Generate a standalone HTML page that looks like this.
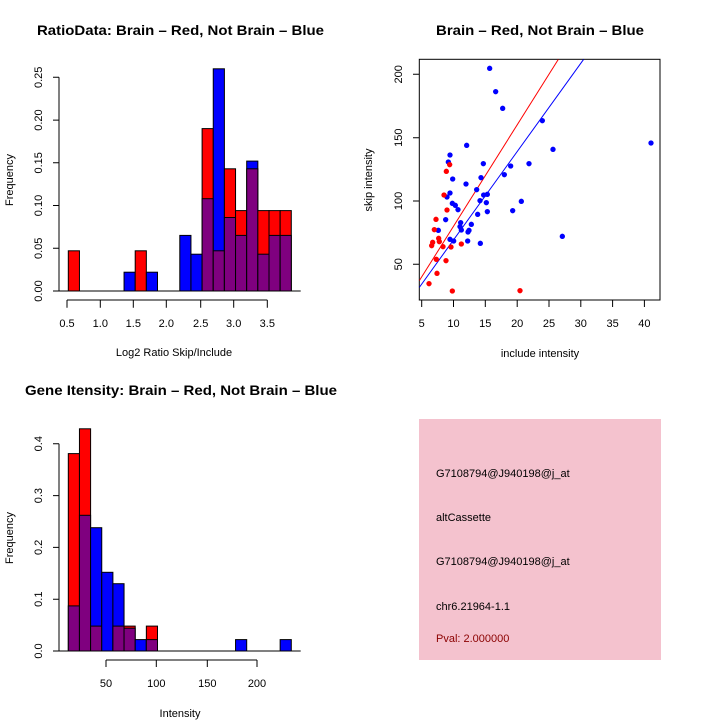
<!DOCTYPE html>
<html><head><style>body{margin:0;background:#fff}svg{display:block}text{font-family:"Liberation Sans",sans-serif;font-size:11px;fill:#000}</style></head><body>
<svg width="720" height="720" viewBox="0 0 720 720" xmlns="http://www.w3.org/2000/svg">
<rect width="720" height="720" fill="#fff"/>
<!-- titles -->
<text x="37" y="35" font-weight="bold" style="font-size:14px" textLength="287" lengthAdjust="spacingAndGlyphs">RatioData: Brain – Red, Not Brain – Blue</text>
<text x="436" y="35" font-weight="bold" style="font-size:14px" textLength="208" lengthAdjust="spacingAndGlyphs">Brain – Red, Not Brain – Blue</text>
<text x="25" y="395" font-weight="bold" style="font-size:14px" textLength="312" lengthAdjust="spacingAndGlyphs">Gene Itensity: Brain – Red, Not Brain – Blue</text>

<!-- TOP LEFT HIST -->
<g stroke="#000" stroke-width="1">
<rect x="68.3" y="250.8" width="11.15" height="40.2" fill="#f00"/>
<rect x="124.05" y="272.2" width="11.15" height="18.8" fill="#00f"/>
<rect x="135.2" y="250.8" width="11.15" height="40.2" fill="#f00"/>
<rect x="146.35" y="272.2" width="11.15" height="18.8" fill="#00f"/>
<rect x="179.8" y="235.4" width="11.15" height="55.6" fill="#00f"/>
<rect x="190.95" y="254.2" width="11.15" height="36.8" fill="#00f"/>
<rect x="202.1" y="128.6" width="11.15" height="162.4" fill="#f00"/>
<rect x="202.1" y="198.7" width="11.15" height="92.3" fill="#7f007f"/>
<rect x="213.25" y="68.8" width="11.15" height="222.2" fill="#00f"/>
<rect x="213.25" y="250.8" width="11.15" height="40.2" fill="#7f007f"/>
<rect x="224.4" y="168.8" width="11.15" height="122.2" fill="#f00"/>
<rect x="224.4" y="217.5" width="11.15" height="73.5" fill="#7f007f"/>
<rect x="235.55" y="210.6" width="11.15" height="80.4" fill="#f00"/>
<rect x="235.55" y="235.4" width="11.15" height="55.6" fill="#7f007f"/>
<rect x="246.7" y="161.1" width="11.15" height="129.9" fill="#00f"/>
<rect x="246.7" y="168.8" width="11.15" height="122.2" fill="#7f007f"/>
<rect x="257.85" y="210.6" width="11.15" height="80.4" fill="#f00"/>
<rect x="257.85" y="254.2" width="11.15" height="36.8" fill="#7f007f"/>
<rect x="269" y="210.6" width="11.15" height="80.4" fill="#f00"/>
<rect x="269" y="235.4" width="11.15" height="55.6" fill="#7f007f"/>
<rect x="280.15" y="210.6" width="11.15" height="80.4" fill="#f00"/>
<rect x="280.15" y="235.4" width="11.15" height="55.6" fill="#7f007f"/>
</g>
<g stroke="#000" fill="none">
<path d="M59,291H300.7"/>
<path d="M59,77.3V291M53,291H59M53,248.3H59M53,205.5H59M53,162.8H59M53,120.1H59M53,77.3H59"/>
<path d="M67,300H267.3M67,300V307.7M100.3,300V307.7M133.3,300V307.7M166.3,300V307.7M200.7,300V307.7M233.7,300V307.7M267.3,300V307.7"/>
</g>
<g text-anchor="middle">
<text x="67" y="327">0.5</text><text x="100.3" y="327">1.0</text><text x="133.3" y="327">1.5</text><text x="166.3" y="327">2.0</text><text x="200.7" y="327">2.5</text><text x="233.7" y="327">3.0</text><text x="267.3" y="327">3.5</text>
<text transform="translate(42,291) rotate(-90)">0.00</text>
<text transform="translate(42,248.3) rotate(-90)">0.05</text>
<text transform="translate(42,205.5) rotate(-90)">0.10</text>
<text transform="translate(42,162.8) rotate(-90)">0.15</text>
<text transform="translate(42,120.1) rotate(-90)">0.20</text>
<text transform="translate(42,77.3) rotate(-90)">0.25</text>
<text transform="translate(13,180) rotate(-90)">Frequency</text>
<text x="174" y="356">Log2 Ratio Skip/Include</text>
</g>

<!-- SCATTER -->
<rect x="419.3" y="59.3" width="240.7" height="240.7" fill="none" stroke="#000"/>
<g stroke="#000" fill="none">
<path d="M421.7,300V307M453.5,300V307M485.3,300V307M517.2,300V307M549,300V307M580.8,300V307M612.6,300V307M644.4,300V307"/>
<path d="M413,264.3H419.3M413,201H419.3M413,137.7H419.3M413,74.3H419.3"/>
</g>
<g text-anchor="middle">
<text x="421.7" y="327">5</text><text x="453.5" y="327">10</text><text x="485.3" y="327">15</text><text x="517.2" y="327">20</text><text x="549" y="327">25</text><text x="580.8" y="327">30</text><text x="612.6" y="327">35</text><text x="644.4" y="327">40</text>
<text transform="translate(402,264.3) rotate(-90)">50</text>
<text transform="translate(402,201) rotate(-90)">100</text>
<text transform="translate(402,137.7) rotate(-90)">150</text>
<text transform="translate(402,74.3) rotate(-90)">200</text>
<text transform="translate(372,180) rotate(-90)">skip intensity</text>
<text x="540" y="357">include intensity</text>
</g>
<svg x="419.3" y="59.3" width="240.7" height="240.7" viewBox="419.3 59.3 240.7 240.7" overflow="hidden">
<g transform="translate(380,50) scale(0.33333)">
<path d="M118,692L535,28" stroke="#f00" stroke-width="3" fill="none"/>
<path d="M118,712L611,28" stroke="#00f" stroke-width="3" fill="none"/>
<g fill="#00f">
<circle cx="329" cy="55" r="8"/><circle cx="347" cy="125" r="8"/><circle cx="368" cy="175" r="8"/><circle cx="487" cy="212" r="8"/><circle cx="260" cy="286" r="8"/><circle cx="813" cy="279" r="8"/><circle cx="519" cy="298" r="8"/><circle cx="210" cy="315" r="8"/><circle cx="205" cy="336" r="8"/><circle cx="310" cy="341" r="8"/><circle cx="447" cy="341" r="8"/><circle cx="392" cy="348" r="8"/><circle cx="373" cy="374" r="8"/><circle cx="218" cy="387" r="8"/><circle cx="303" cy="383" r="8"/><circle cx="258" cy="402" r="8"/><circle cx="290" cy="419" r="8"/><circle cx="210" cy="429" r="8"/><circle cx="201" cy="441" r="8"/><circle cx="322" cy="433" r="8"/><circle cx="311" cy="435" r="8"/><circle cx="300" cy="452" r="8"/><circle cx="319" cy="458" r="8"/><circle cx="217" cy="460" r="8"/><circle cx="226" cy="466" r="8"/><circle cx="234" cy="479" r="8"/><circle cx="424" cy="454" r="8"/><circle cx="293" cy="493" r="8"/><circle cx="322" cy="485" r="8"/><circle cx="398" cy="482" r="8"/><circle cx="197" cy="509" r="8"/><circle cx="242" cy="518" r="8"/><circle cx="274" cy="523" r="8"/><circle cx="240" cy="530" r="8"/><circle cx="244" cy="540" r="8"/><circle cx="267" cy="541" r="8"/><circle cx="264" cy="546" r="8"/><circle cx="175" cy="541" r="8"/><circle cx="210" cy="568" r="8"/><circle cx="221" cy="573" r="8"/><circle cx="263" cy="573" r="8"/><circle cx="301" cy="580" r="8"/><circle cx="547" cy="559" r="8"/>
</g>
<g fill="#f00">
<circle cx="209" cy="344" r="8"/><circle cx="199" cy="364" r="8"/><circle cx="192" cy="435" r="8"/><circle cx="201" cy="480" r="8"/><circle cx="168" cy="508" r="8"/><circle cx="163" cy="539" r="8"/><circle cx="158" cy="577" r="8"/><circle cx="176" cy="565" r="8"/><circle cx="178" cy="575" r="8"/><circle cx="155" cy="587" r="8"/><circle cx="189" cy="590" r="8"/><circle cx="213" cy="591" r="8"/><circle cx="244" cy="582" r="8"/><circle cx="169" cy="628" r="8"/><circle cx="198" cy="632" r="8"/><circle cx="171" cy="670" r="8"/><circle cx="147" cy="701" r="8"/><circle cx="217" cy="723" r="8"/><circle cx="420" cy="722" r="8"/>
</g>
</g>
</svg>

<!-- BOTTOM HIST -->
<g stroke="#000" stroke-width="1">
<rect x="68.3" y="453.6" width="11.15" height="197.4" fill="#f00"/>
<rect x="68.3" y="605.9" width="11.15" height="45.1" fill="#7f007f"/>
<rect x="79.45" y="428.8" width="11.15" height="222.2" fill="#f00"/>
<rect x="79.45" y="515.3" width="11.15" height="135.7" fill="#7f007f"/>
<rect x="90.6" y="527.7" width="11.15" height="123.3" fill="#00f"/>
<rect x="90.6" y="626.1" width="11.15" height="24.9" fill="#7f007f"/>
<rect x="101.75" y="572.3" width="11.15" height="78.7" fill="#00f"/>
<rect x="112.9" y="583.7" width="11.15" height="67.3" fill="#00f"/>
<rect x="112.9" y="626.1" width="11.15" height="24.9" fill="#7f007f"/>
<rect x="124.05" y="626.1" width="11.15" height="24.9" fill="#f00"/>
<rect x="124.05" y="628.2" width="11.15" height="22.8" fill="#7f007f"/>
<rect x="135.2" y="639.6" width="11.15" height="11.4" fill="#00f"/>
<rect x="146.35" y="626.1" width="11.15" height="24.9" fill="#f00"/>
<rect x="146.35" y="639.6" width="11.15" height="11.4" fill="#7f007f"/>
<rect x="235.55" y="639.6" width="11.15" height="11.4" fill="#00f"/>
<rect x="280.15" y="639.6" width="11.15" height="11.4" fill="#00f"/>
</g>
<g stroke="#000" fill="none">
<path d="M59,651H300.7"/>
<path d="M59,443.7V651M53,651H59M53,599.2H59M53,547.4H59M53,495.6H59M53,443.7H59"/>
<path d="M106,660H257M106,660V667M156.3,660V667M207.3,660V667M257,660V667"/>
</g>
<g text-anchor="middle">
<text x="106" y="687">50</text><text x="156.3" y="687">100</text><text x="207.3" y="687">150</text><text x="257" y="687">200</text>
<text transform="translate(42,651) rotate(-90)">0.0</text>
<text transform="translate(42,599.2) rotate(-90)">0.1</text>
<text transform="translate(42,547.4) rotate(-90)">0.2</text>
<text transform="translate(42,495.6) rotate(-90)">0.3</text>
<text transform="translate(42,443.7) rotate(-90)">0.4</text>
<text transform="translate(13,538) rotate(-90)">Frequency</text>
<text x="180" y="717">Intensity</text>
</g>

<!-- INFO PANEL -->
<rect x="419" y="419" width="242" height="241" fill="#f4c2ce"/>
<g style="font-size:12px">
<text x="436" y="477">G7108794@J940198@j_at</text>
<text x="436" y="521">altCassette</text>
<text x="436" y="565">G7108794@J940198@j_at</text>
<text x="436" y="610">chr6.21964-1.1</text>
<text x="436" y="642" fill="#8b0000" style="fill:#8b0000">Pval: 2.000000</text>
</g>
</svg>
</body></html>
